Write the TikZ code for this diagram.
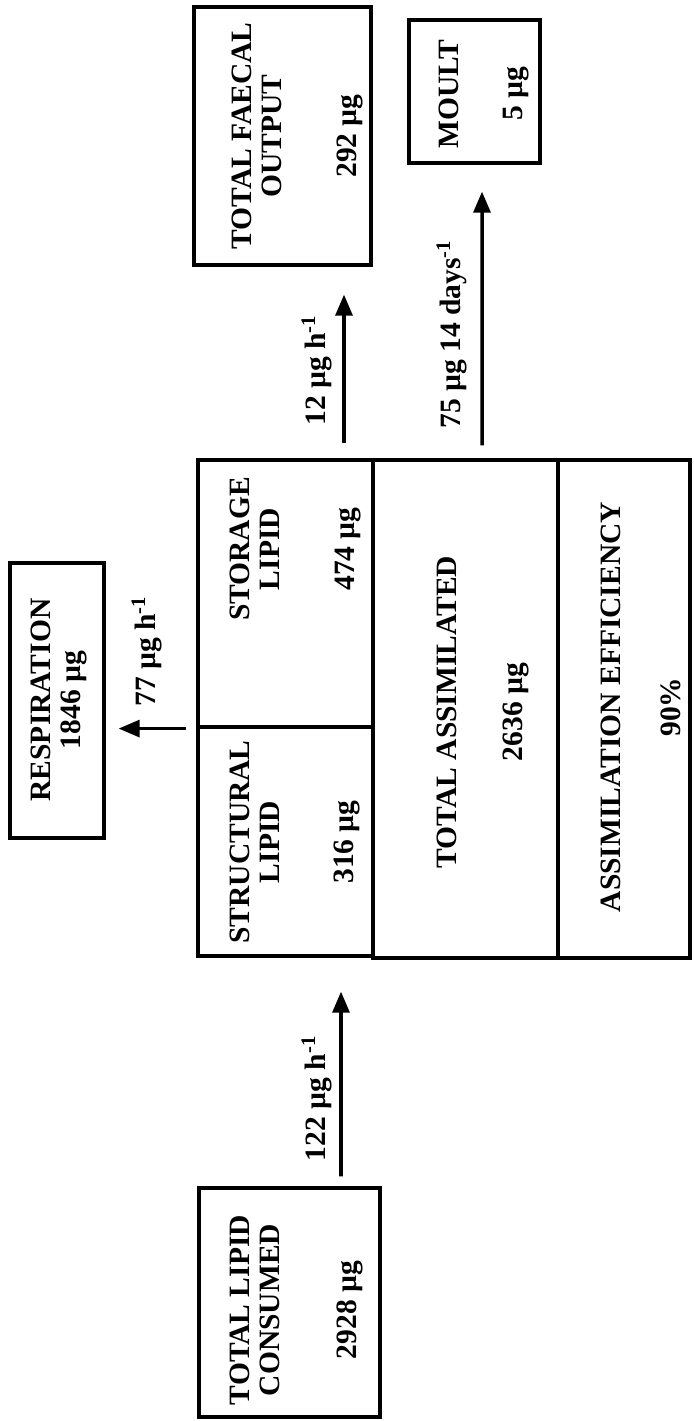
\documentclass[tikz,border=0pt]{standalone}
\usepackage{fontspec}
\setmainfont{Liberation Serif}
\usetikzlibrary{arrows.meta}

\begin{document}
\begin{tikzpicture}[>={Triangle[length=6pt,width=4.8pt]},
  cell/.style={draw,line width=0.9pt,inner sep=0pt},
  txt/.style={rotate=90,align=center,inner sep=0pt,anchor=north,font=\fontsize{8.4}{8.5}\selectfont\bfseries},
  rate/.style={rotate=90,inner sep=0pt,anchor=base,font=\fontsize{8.4}{8.5}\selectfont\bfseries},
  flow/.style={->,line width=1pt}]
\useasboundingbox (0,0) rectangle (6.93,-14.21);
% outer boxes
\node[cell,minimum width=1.77cm,minimum height=2.58cm] (faecal) at (2.825,-1.36) {};
\node[cell,minimum width=1.31cm,minimum height=1.43cm] (moult) at (4.745,-0.915) {};
\node[cell,minimum width=0.94cm,minimum height=2.75cm] (resp) at (0.57,-7.005) {};
\node[cell,minimum width=1.81cm,minimum height=2.29cm] (consumed) at (2.895,-13.025) {};
% the assimilation block
\node[cell,minimum width=1.75cm,minimum height=2.67cm] (storage) at (2.855,-5.935) {};
\node[cell,minimum width=1.75cm,minimum height=2.29cm] (struct) at (2.855,-8.415) {};
\node[cell,minimum width=1.85cm,minimum height=4.98cm] (assim) at (4.655,-7.09) {};
\node[cell,minimum width=1.32cm,minimum height=4.98cm] (effic) at (6.24,-7.09) {};
% texts
\node[txt] (faecaltxt) at (2.31,-1.36) {TOTAL FAECAL\\OUTPUT\\[0.45cm]292 µg};
\node[txt] (moulttxt) at (4.38,-0.94) {MOULT\\[0.34cm]5 µg};
\node[txt] (resptxt) at (0.30,-7.00) {RESPIRATION\\1846 µg};
\node[txt] (storagetxt) at (2.29,-5.49) {STORAGE\\LIPID\\[0.45cm]474 µg};
\node[txt] (structtxt) at (2.29,-8.42) {STRUCTURAL\\LIPID\\[0.44cm]316 µg};
\node[txt] (assimtxt) at (4.36,-7.12) {TOTAL ASSIMILATED\\[0.36cm]2636 µg};
\node[txt] (effictxt) at (6.00,-7.07) {ASSIMILATION EFFICIENCY\\[0.30cm]90\%};
\node[txt] (consumedtxt) at (2.29,-13.10) {TOTAL LIPID\\CONSUMED\\[0.47cm]2928 µg};
% flows
\draw[flow,shorten <=1mm,shorten >=3.4mm] ([xshift=5.15mm]consumed.north) -- ([xshift=5.55mm]struct.south);
\draw[flow,shorten <=1mm,shorten >=1.3mm] (storage.south west) -- (storage.south west -| resp.east);
\draw[flow,shorten <=1.5mm,shorten >=2.8mm] ([xshift=5.85mm]storage.north) -- ([xshift=6.15mm]faecal.south);
\draw[flow,shorten <=1.3mm,shorten >=2.7mm] ([xshift=1.65mm]assim.north) -- ([xshift=0.75mm]moult.south);
\node[rate] (rate122) at (3.25,-10.98) {122 µg h\textsuperscript{-1}};
\node[rate] (rate77) at (1.55,-6.51) {77 µg h\textsuperscript{-1}};
\node[rate] (rate12) at (3.25,-3.70) {12 µg h\textsuperscript{-1}};
\node[rate] (rate75) at (4.60,-3.34) {75 µg 14 days\textsuperscript{-1}};
\end{tikzpicture}
\end{document}
